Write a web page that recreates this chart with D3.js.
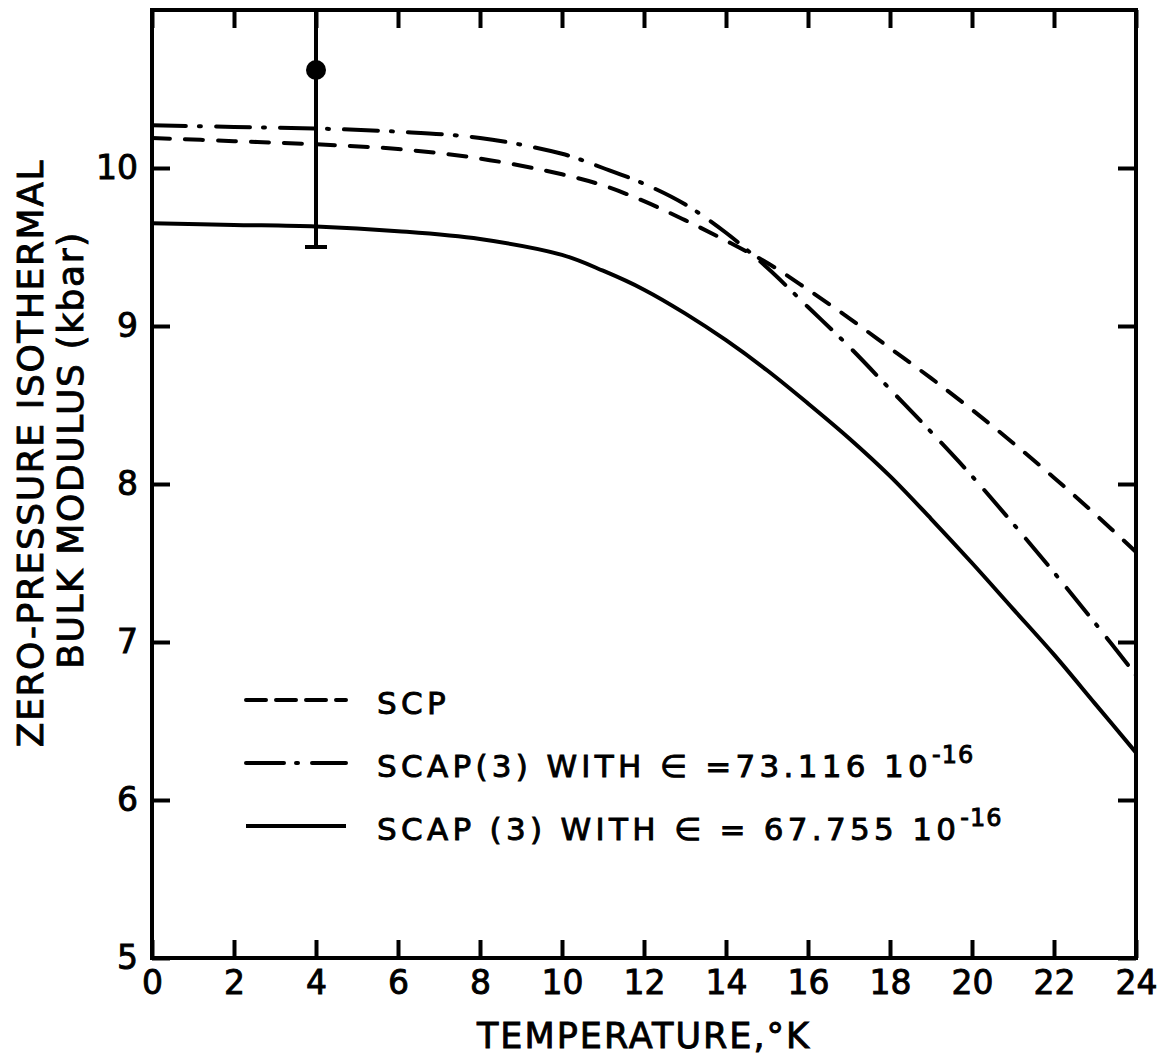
<!DOCTYPE html>
<html>
<head>
<meta charset="utf-8">
<script src="https://cdn.jsdelivr.net/npm/d3@7"></script>
<style>
body { margin: 0; background: #fff; }
svg text { font-family: "DejaVu Sans", sans-serif; fill: #000; stroke: #000; stroke-width: 0.9px; }
</style>
</head>
<body>
<svg id="chart" width="1167" height="1060"></svg>
<script>
const temps = [0, 2, 4, 6, 8, 10, 11, 12, 13, 14, 15, 16, 17, 18, 19, 20, 21, 22, 23, 24];
// bulk modulus (kbar)
const scp    = [10.19, 10.17, 10.15, 10.12, 10.06, 9.96, 9.89, 9.79, 9.67, 9.54, 9.40, 9.23, 9.05, 8.86, 8.67, 8.47, 8.26, 8.04, 7.81, 7.57];
const scap73 = [10.27, 10.26, 10.25, 10.23, 10.19, 10.09, 10.00, 9.90, 9.77, 9.59, 9.37, 9.12, 8.87, 8.60, 8.33, 8.05, 7.75, 7.44, 7.12, 6.79];
const scap67 = [9.65, 9.64, 9.63, 9.60, 9.55, 9.45, 9.35, 9.23, 9.08, 8.91, 8.72, 8.51, 8.29, 8.05, 7.78, 7.50, 7.21, 6.92, 6.61, 6.30];

// experimental point with error bar
const expT = 4, expB = 10.62, expLow = 9.5, expHigh = 11.0;

const xTicks = [0, 2, 4, 6, 8, 10, 12, 14, 16, 18, 20, 22, 24];
const yTicks = [5, 6, 7, 8, 9, 10];

const legendLabels = ["SCP", "SCAP(3) WITH \u2208 =73.116  10", "SCAP (3) WITH \u2208 = 67.755 10"];
const legendSup = ["", "-16", "-16"];

const svg = d3.select("#chart");
const x = d3.scaleLinear().domain([0, 24]).range([152, 1136]);
const y = d3.scaleLinear().domain([5, 11]).range([958, 10]);

const series = [
    { vals: scp, dash: "18,15" },
    { vals: scap73, dash: "34,13,2,15" },
    { vals: scap67, dash: null }
];

const line = d3.line()
    .x((d, i) => x(temps[i]))
    .y(d => y(d))
    .curve(d3.curveCatmullRom);

svg.selectAll("path.curve")
    .data(series)
    .join("path")
    .attr("class", "curve")
    .attr("d", d => line(d.vals))
    .attr("fill", "none")
    .attr("stroke", "#000")
    .attr("stroke-width", 4)
    .attr("stroke-linecap", d => d.dash ? "round" : "butt")
    .attr("stroke-dasharray", d => d.dash);

// axes, ticks pointing inward
const tickLen = 18;
const styleAxis = g => {
    g.select(".domain").remove();
    g.selectAll(".tick line").attr("stroke", "#000").attr("stroke-width", 4);
    g.selectAll(".tick text").style("font-size", "33px").attr("fill", "#000");
};

svg.append("g")
    .attr("transform", `translate(0,${y(5)})`)
    .call(d3.axisBottom(x).tickValues(xTicks).tickSizeInner(-tickLen).tickSizeOuter(0).tickPadding(13).tickFormat(d3.format("d")))
    .call(styleAxis);

svg.append("g")
    .attr("transform", `translate(0,${y(11)})`)
    .call(d3.axisTop(x).tickValues(xTicks).tickSizeInner(-tickLen).tickSizeOuter(0).tickFormat(""))
    .call(styleAxis);

svg.append("g")
    .attr("transform", `translate(${x(0)},0)`)
    .call(d3.axisLeft(y).tickValues(yTicks).tickSizeInner(-tickLen).tickSizeOuter(0).tickPadding(14).tickFormat(d3.format("d")))
    .call(styleAxis);

svg.append("g")
    .attr("transform", `translate(${x(24)},0)`)
    .call(d3.axisRight(y).tickValues(yTicks).tickSizeInner(-tickLen).tickSizeOuter(0).tickFormat(""))
    .call(styleAxis);

svg.append("rect")
    .attr("x", x(0)).attr("y", y(11))
    .attr("width", x(24) - x(0)).attr("height", y(5) - y(11))
    .attr("fill", "none").attr("stroke", "#000").attr("stroke-width", 4);

// experimental point
svg.append("line")
    .attr("x1", x(expT)).attr("x2", x(expT))
    .attr("y1", y(expLow)).attr("y2", y(expHigh))
    .attr("stroke", "#000").attr("stroke-width", 4);
svg.append("line")
    .attr("x1", x(expT) - 11).attr("x2", x(expT) + 11)
    .attr("y1", y(expLow)).attr("y2", y(expLow))
    .attr("stroke", "#000").attr("stroke-width", 4);
svg.append("circle")
    .attr("cx", x(expT)).attr("cy", y(expB)).attr("r", 10).attr("fill", "#000");

// axis titles
svg.append("text")
    .attr("x", (x(0) + x(24)) / 2).attr("y", 1048)
    .attr("text-anchor", "middle")
    .style("font-size", "35px").style("letter-spacing", "2px")
    .text("TEMPERATURE,\u00B0K");

const yTitle = ["ZERO-PRESSURE ISOTHERMAL", "BULK MODULUS (kbar)"];
svg.selectAll("text.ytitle")
    .data(yTitle)
    .join("text")
    .attr("class", "ytitle")
    .attr("transform", (d, i) => `translate(${i === 0 ? 43 : 83},${i === 0 ? 453 : 450}) rotate(-90)`)
    .attr("text-anchor", "middle")
    .style("font-size", "36px").style("letter-spacing", "1.6px")
    .text(d => d);

// legend
const legendY = [714, 777, 840];
const legend = svg.selectAll("g.leg")
    .data(series)
    .join("g")
    .attr("class", "leg");

const legendDash = ["20,10", "38,12,2,14", null];
legend.append("line")
    .attr("x1", 246).attr("x2", 346)
    .attr("y1", (d, i) => legendY[i] - 14).attr("y2", (d, i) => legendY[i] - 14)
    .attr("stroke", "#000").attr("stroke-width", 4)
    .attr("stroke-linecap", (d, i) => legendDash[i] ? "round" : "butt")
    .attr("stroke-dasharray", (d, i) => legendDash[i]);

const lt = legend.append("text")
    .attr("x", 377).attr("y", (d, i) => legendY[i])
    .style("font-size", "31px").style("letter-spacing", "4.3px");
lt.append("tspan").text((d, i) => legendLabels[i]);
lt.append("tspan")
    .attr("dy", "-0.6em")
    .style("font-size", "24px").style("letter-spacing", "1px")
    .text((d, i) => legendSup[i]);
</script>
</body>
</html>
